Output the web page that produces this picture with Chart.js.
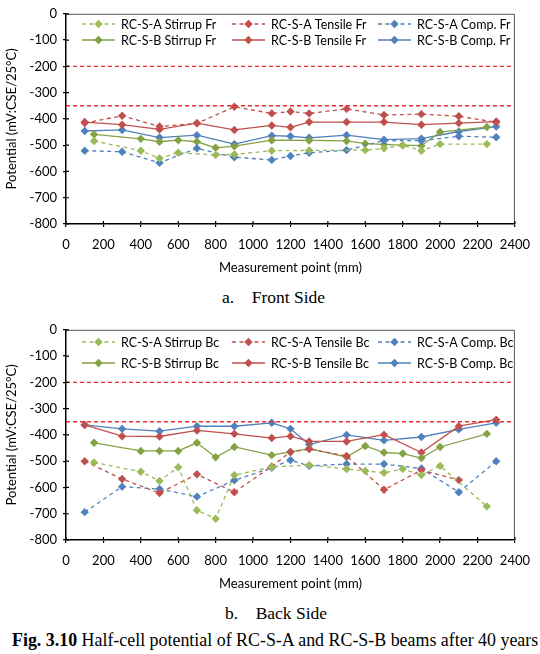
<!DOCTYPE html>
<html>
<head>
<meta charset="utf-8">
<script src="https://cdn.jsdelivr.net/npm/chart.js@4.4.1/dist/chart.umd.min.js"></script>
<style>
  body { margin: 0; background: #fff; width: 540px; height: 654px; position: relative; overflow: hidden; }
  canvas { position: absolute; left: 0; }
  #grafico-front { top: 0; }
  #grafico-back { top: 316px; }
  .cap { position: absolute; font-family: "Liberation Serif", "Times New Roman", serif; font-size: 17.5px; color: #000; white-space: nowrap; }
</style>
</head>
<body>
<canvas id="grafico-front" width="540" height="280"></canvas>
<canvas id="grafico-back" width="540" height="280"></canvas>
<div class="cap" style="left:222px; top:287px;">a.&nbsp;&nbsp;&nbsp;&nbsp;Front Side</div>
<div class="cap" style="left:225px; top:603px;">b.&nbsp;&nbsp;&nbsp;&nbsp;Back Side</div>
<div class="cap" style="left:12px; top:630px; font-size:17.9px;"><b>Fig. 3.10</b> Half-cell potential of RC-S-A and RC-S-B beams after 40 years</div>

<script>
// posiciones de medición (mm)
const xBarras = [100, 300, 500, 700, 900, 1100, 1200, 1300, 1500, 1700, 1900, 2100, 2300];

// --- Front side ---
const xFrStirrupA = [150, 400, 500, 600, 800, 900, 1100, 1300, 1600, 1700, 1800, 1900, 2000, 2250];
const frStirrupA = [-484, -521, -550, -529, -537, -535, -521, -520, -519, -512, -500, -521, -496, -496];
const frTensileA = [-416, -388, -429, -417, -354, -379, -372, -379, -362, -385, -382, -390, -413];
const frCompA = [-521, -525, -567, -512, -546, -556, -541, -529, -519, -482, -483, -466, -470];
const xFrStirrupB = [150, 400, 500, 600, 700, 800, 900, 1100, 1300, 1500, 1600, 1700, 1800, 1900, 2000, 2250];
const frStirrupB = [-459, -476, -487, -481, -487, -510, -504, -481, -482, -484, -494, -497, -500, -502, -450, -431];
const frTensileB = [-412, -422, -440, -416, -442, -425, -432, -412, -412, -412, -422, -416, -410];
const frCompB = [-446, -442, -471, -462, -496, -464, -466, -472, -462, -479, -475, -448, -429];

// --- Back side ---
const xBcStirrupA = [150, 400, 500, 600, 700, 800, 900, 1100, 1300, 1500, 1600, 1700, 1800, 1900, 2000, 2250];
const bcStirrupA = [-505, -540, -575, -523, -687, -719, -553, -522, -515, -530, -537, -544, -530, -553, -518, -672];
const xBcTensileA = [100, 300, 500, 700, 900, 1100, 1200, 1300, 1500, 1700, 1900, 2100];
const bcTensileA = [-500, -568, -621, -550, -618, -520, -465, -454, -480, -609, -534, -572];
const bcCompA = [-694, -597, -606, -635, -573, -525, -496, -518, -511, -511, -528, -618, -500];
const xBcStirrupB = [150, 400, 500, 600, 700, 800, 900, 1100, 1200, 1300, 1500, 1600, 1700, 1800, 1900, 2000, 2250];
const bcStirrupB = [-430, -461, -461, -461, -430, -485, -446, -477, -465, -452, -484, -442, -467, -471, -488, -446, -396];
const bcTensileB = [-362, -405, -406, -383, -396, -412, -405, -425, -425, -399, -467, -367, -342];
const bcCompB = [-362, -377, -386, -367, -367, -354, -377, -437, -400, -421, -408, -379, -354];

// líneas de referencia (mV)
const umbrales = [-200, -350];

const xTicks = { min: 0, max: 2400, step: 200 };
const yTicks = { min: -800, max: 0, step: 100 };

const COLORES = {
    stirrupA: '#9BBB59',
    stirrupB: '#84A243',
    tensile: '#C0504D',
    comp: '#4F81BD',
    umbral: '#EE2B2B'
};
const FUENTE = 'Lato, "Liberation Sans", sans-serif';

function puntos(xs, ys) {
    return ys.map((y, i) => ({ x: xs[i], y: y }));
}

function serie(label, xs, ys, color, dashed) {
    return {
        label: label,
        data: puntos(xs, ys),
        borderColor: color,
        backgroundColor: color,
        borderWidth: 1.3,
        borderDash: dashed ? [4, 3.5] : [],
        pointStyle: 'rectRot',
        pointRadius: 4.2,
        pointBorderWidth: 0,
        pointBackgroundColor: color,
        showLine: true,
        tension: 0
    };
}

function lineasUmbral() {
    return umbrales.map(u => ({
        label: '_umbral',
        data: [{ x: xTicks.min, y: u }, { x: xTicks.max, y: u }],
        borderColor: COLORES.umbral,
        borderWidth: 1.4,
        borderDash: [4, 3],
        pointRadius: 0,
        showLine: true,
        isUmbral: true
    }));
}

// marco del área y marcas interiores de los ejes
const marcoPlugin = {
    id: 'marco',
    afterDatasetsDraw(chart) {
        const { ctx, chartArea: a, scales } = chart;
        ctx.save();
        ctx.strokeStyle = '#555';
        ctx.lineWidth = 1;
        ctx.setLineDash([]);
        ctx.beginPath();
        ctx.moveTo(a.left, a.top + 0.5);
        ctx.lineTo(a.right - 0.5, a.top + 0.5);
        ctx.lineTo(a.right - 0.5, a.bottom);
        ctx.stroke();
        ctx.strokeStyle = '#000';
        ctx.lineWidth = 1.2;
        ctx.beginPath();
        scales.x.ticks.forEach(t => {
            const px = scales.x.getPixelForValue(t.value);
            ctx.moveTo(px, a.bottom);
            ctx.lineTo(px, a.bottom - 3);
        });
        scales.y.ticks.forEach(t => {
            const py = scales.y.getPixelForValue(t.value);
            ctx.moveTo(a.left, py);
            ctx.lineTo(a.left + 3, py);
        });
        ctx.stroke();
        ctx.restore();
    }
};

// leyenda dentro del área (3 columnas x 2 filas)
const leyendaPlugin = {
    id: 'leyendaInterna',
    afterDraw(chart, args, opts) {
        const ctx = chart.ctx;
        const items = chart.data.datasets.filter(d => !d.isUmbral);
        ctx.save();
        ctx.font = opts.fontSize + 'px ' + FUENTE;
        ctx.textBaseline = 'middle';
        ctx.fillStyle = '#000';
        items.forEach((d, i) => {
            const fila = Math.floor(i / 3);
            const col = i % 3;
            const y = opts.filas[fila];
            const x0 = opts.columnas[col];
            const x1 = x0 + 33;
            const xm = (x0 + x1) / 2;
            ctx.strokeStyle = d.borderColor;
            ctx.lineWidth = 1.3;
            ctx.setLineDash(d.borderDash || []);
            ctx.beginPath();
            ctx.moveTo(x0, y);
            ctx.lineTo(x1, y);
            ctx.stroke();
            ctx.setLineDash([]);
            ctx.fillStyle = d.borderColor;
            ctx.beginPath();
            ctx.moveTo(xm - 4.2, y);
            ctx.lineTo(xm, y - 4.2);
            ctx.lineTo(xm + 4.2, y);
            ctx.lineTo(xm, y + 4.2);
            ctx.closePath();
            ctx.fill();
            ctx.fillStyle = '#000';
            ctx.fillText(d.label, x1 + 6, y + 0.5);
        });
        ctx.restore();
    }
};

function crearGrafico(id, datasets, filasLeyenda) {
    const ctx = document.getElementById(id).getContext('2d');
    return new Chart(ctx, {
        type: 'scatter',
        data: { datasets: lineasUmbral().concat(datasets) },
        plugins: [marcoPlugin, leyendaPlugin],
        options: {
            responsive: false,
            animation: false,
            events: [],
            layout: { padding: { top: 12.5, right: 22, left: 0, bottom: 0 } },
            scales: {
                x: {
                    type: 'linear',
                    min: xTicks.min,
                    max: xTicks.max,
                    afterFit: s => { s.height = 56; },
                    ticks: {
                        stepSize: xTicks.step,
                        padding: 10,
                        autoSkip: false,
                        maxRotation: 0,
                        minRotation: 0,
                        color: '#000',
                        font: { family: FUENTE, size: 13 },
                        callback: value => String(value)
                    },
                    grid: { drawOnChartArea: false, drawTicks: true, tickLength: 3, color: '#000', lineWidth: 1.2 },
                    border: { display: true, color: '#000', width: 1.5 },
                    title: {
                        display: true,
                        text: 'Measurement point (mm)',
                        color: '#000',
                        font: { family: FUENTE, size: 13 },
                        padding: { top: 4, bottom: 4 }
                    }
                },
                y: {
                    type: 'linear',
                    min: yTicks.min,
                    max: yTicks.max,
                    afterFit: s => { s.width = 66; },
                    ticks: {
                        stepSize: yTicks.step,
                        padding: 6,
                        color: '#000',
                        font: { family: FUENTE, size: 13 },
                        callback: value => String(value)
                    },
                    grid: { drawOnChartArea: false, drawTicks: true, tickLength: 3, color: '#000', lineWidth: 1.2 },
                    border: { display: true, color: '#000', width: 1.5 },
                    title: {
                        display: true,
                        text: 'Potential (mV:CSE/25°C)',
                        color: '#000',
                        font: { family: FUENTE, size: 13 },
                        padding: { top: 4, bottom: 4 }
                    }
                }
            },
            plugins: {
                legend: { display: false },
                tooltip: { enabled: false },
                leyendaInterna: { filas: filasLeyenda, columnas: [82, 232, 378], fontSize: 12.5 }
            }
        }
    });
}

crearGrafico('grafico-front', [
    serie('RC-S-A Stirrup Fr', xFrStirrupA, frStirrupA, COLORES.stirrupA, true),
    serie('RC-S-A Tensile Fr', xBarras, frTensileA, COLORES.tensile, true),
    serie('RC-S-A Comp. Fr', xBarras, frCompA, COLORES.comp, true),
    serie('RC-S-B Stirrup Fr', xFrStirrupB, frStirrupB, COLORES.stirrupB, false),
    serie('RC-S-B Tensile Fr', xBarras, frTensileB, COLORES.tensile, false),
    serie('RC-S-B Comp. Fr', xBarras, frCompB, COLORES.comp, false)
], [24, 40]);

crearGrafico('grafico-back', [
    serie('RC-S-A Stirrup Bc', xBcStirrupA, bcStirrupA, COLORES.stirrupA, true),
    serie('RC-S-A Tensile Bc', xBcTensileA, bcTensileA, COLORES.tensile, true),
    serie('RC-S-A Comp. Bc', xBarras, bcCompA, COLORES.comp, true),
    serie('RC-S-B Stirrup Bc', xBcStirrupB, bcStirrupB, COLORES.stirrupB, false),
    serie('RC-S-B Tensile Bc', xBarras, bcTensileB, COLORES.tensile, false),
    serie('RC-S-B Comp. Bc', xBarras, bcCompB, COLORES.comp, false)
], [26, 47]);
</script>
</body>
</html>
